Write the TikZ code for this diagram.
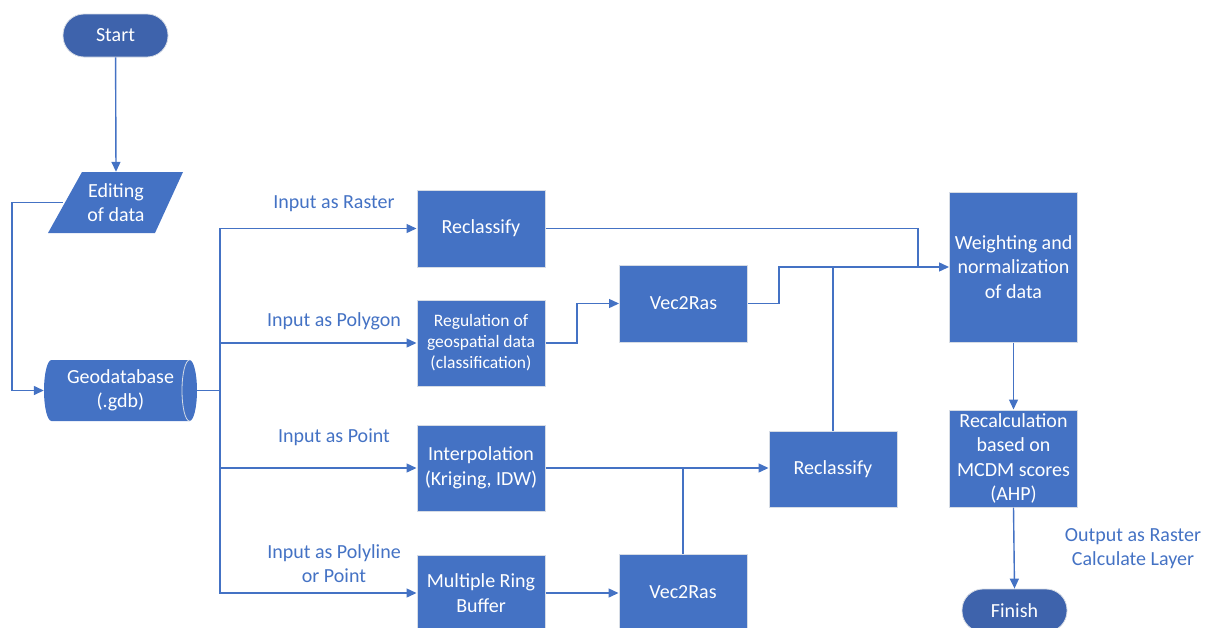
\documentclass[tikz,border=0pt]{standalone}
\usepackage{fontspec}
\setmainfont{Carlito}
\usetikzlibrary{arrows.meta,calc}
\definecolor{boxblue}{HTML}{4472C4}
\definecolor{pillblue}{HTML}{3E63AC}
\definecolor{edge}{HTML}{D6DCE5}
\definecolor{linec}{HTML}{4472C4}
\tikzset{
  x=1pt,y=1pt,
  procbox/.style={rectangle, fill=boxblue, draw=edge, line width=1pt, text=white, align=center,
    minimum width=128pt, inner sep=2pt, font=\fontsize{20}{24.5}\selectfont},
  pill/.style={rectangle, rounded corners=21pt, fill=pillblue, draw=edge, line width=0.8pt, text=white,
    minimum width=105pt, minimum height=43pt, font=\fontsize{20}{24.5}\selectfont},
  ghost/.style={rectangle, draw=none, text=white, align=center, inner sep=0pt, font=\fontsize{20}{24.5}\selectfont},
  lbl/.style={text=linec, align=center, font=\fontsize{20}{24}\selectfont},
  conn/.style={draw=linec, line width=1.4pt},
  arr/.style={conn, -{Triangle[length=10pt,width=9pt]}},
}
\begin{document}
\begin{tikzpicture}
\useasboundingbox (0,0) rectangle (1212,-627);
\clip (0,0) rectangle (1212,-627);

% Start
\node[pill] (start) at (115.5,-35.5) {Start};

% Editing of data (parallelogram)
\fill[boxblue] (82,-172) -- (183,-172) -- (155,-233) -- (48,-233) -- cycle;
\node[ghost, minimum width=106pt, minimum height=61pt] (edit) at (116,-202.5) {Editing\\of data};

% Geodatabase (cylinder)
\fill[boxblue] (51.5,-360) -- (189.5,-360) arc (90:-90:7.5 and 30.5) -- (51.5,-421) arc (270:90:7.5 and 30.5) -- cycle;
\draw[edge, line width=0.8pt] (189.5,-360) arc (90:270:7.5 and 30.5);
\node[ghost, minimum width=153pt, minimum height=61pt] (geo) at (120.5,-390.5) {Geodatabase\\(.gdb)};

% processing boxes
\node[procbox, minimum height=77pt] (rec1) at (481,-228.5) {Reclassify};
\node[procbox, minimum height=86pt, font=\fontsize{17.5}{21}\selectfont] (reg) at (481,-343) {Regulation of\\geospatial data\\(classification)};
\node[procbox, minimum height=86pt] (interp) at (481,-468) {Interpolation\\(Kriging, IDW)};
\node[procbox, minimum height=76pt] (mrb) at (481,-593) {Multiple Ring\\Buffer};
\node[procbox, minimum height=77pt] (vec1) at (683.5,-303.5) {Vec2Ras};
\node[procbox, minimum height=76pt] (rec2) at (833,-469) {Reclassify};
\node[procbox, minimum height=77pt] (vec2) at (683,-592.5) {Vec2Ras};
\node[procbox, minimum height=150pt] (weight) at (1013.5,-267) {Weighting and\\normalization\\of data};
\node[procbox, minimum height=97pt] (recalc) at (1013.5,-458.5) {Recalculation\\based on\\MCDM scores\\(AHP)};
\node[pill] (finish) at (1014.5,-610.5) {Finish};

% helper coordinates
\coordinate (lx) at (12,0);
\coordinate (bus) at (220,0);
\coordinate (m2) at (577,0);
\coordinate (m1) at (779,0);
\coordinate (jx) at (918,-267);

% labels
\node[lbl] (l1) at (334,-204) {Input as Raster};
\node[lbl] (l2) at (334,-321) {Input as Polygon};
\node[lbl] (l3) at (334,-437) {Input as Point};
\node[lbl] (l4) at (334,-564) {Input as Polyline\\or Point};
\node[lbl] (l5) at (1133,-549) {Output as Raster\\Calculate Layer};

% connectors
\draw[arr] (start) -- (edit.north);
\draw[arr] (edit.west) -- (edit.west -| lx) |- (geo.west);
\draw[arr] (geo.east) -- (geo.east -| bus) |- (rec1.west);
\draw[arr] (geo.east) -- (geo.east -| bus) |- (reg.west);
\draw[arr] (geo.east) -- (geo.east -| bus) |- (interp.west);
\draw[arr] (geo.east) -- (geo.east -| bus) |- (mrb.west);
\draw[arr] (reg.east) -- (reg.east -| m2) |- (vec1.west);
\draw[arr] (interp.east) -- (rec2.west |- interp.east);
\draw[arr] (mrb.east) -- (vec2.west |- mrb.east);
\draw[conn] (vec2.north) -- (vec2.north |- interp.east);
\draw[conn] (rec1.east) -| (jx);
\draw[arr] (vec1.east) -- (vec1.east -| m1) |- (weight.west);
\draw[conn] (rec2.north) -- (rec2.north |- weight.west);
\draw[arr] (weight.south) -- (recalc.north);
\draw[arr] (recalc.south) -- (finish.north);
\end{tikzpicture}
\end{document}
